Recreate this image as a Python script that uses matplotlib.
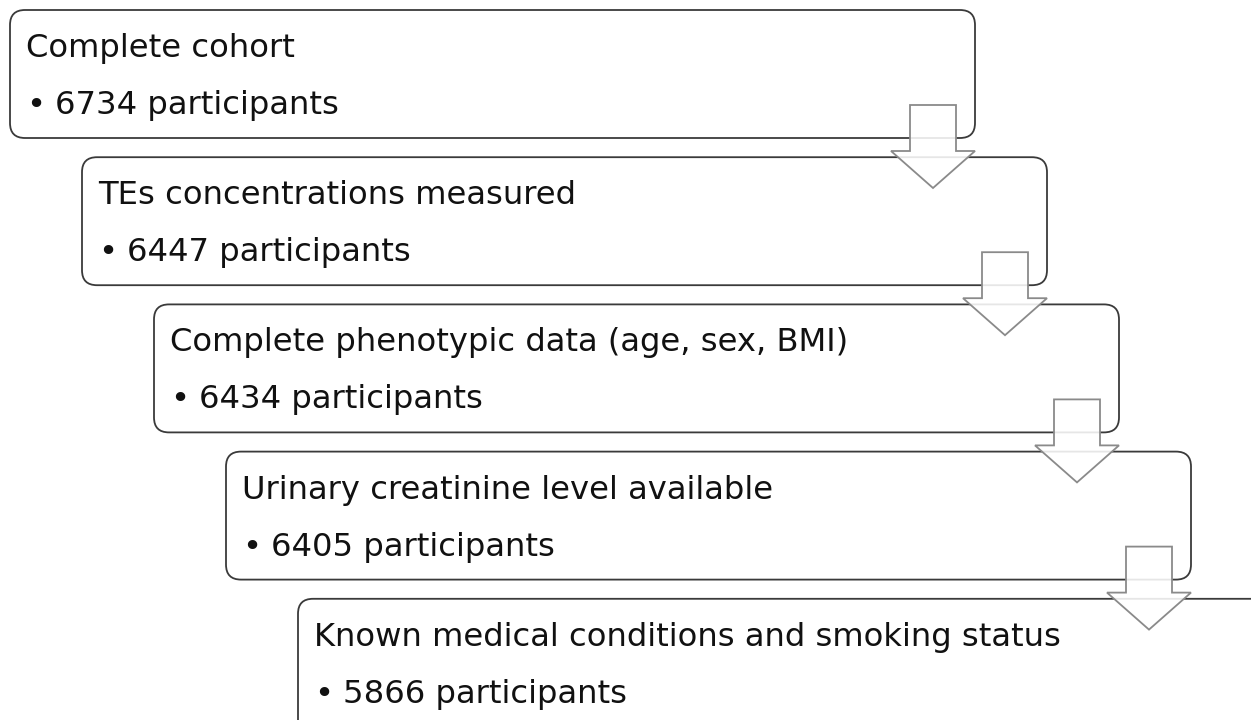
import matplotlib.pyplot as plt
from matplotlib.patches import FancyBboxPatch, Polygon

# flowchart content
steps = ['Complete cohort',
         'TEs concentrations measured',
         'Complete phenotypic data (age, sex, BMI)',
         'Urinary creatinine level available',
         'Known medical conditions and smoking status']
counts = [6734, 6447, 6434, 6405, 5866]

# the reference text is a little wider than Arial, DejaVu Sans fits its extents best
plt.rcParams['font.family'] = ['DejaVu Sans']

fig = plt.figure(figsize=(12.51, 7.2), dpi=100)
ax = fig.add_axes([0, 0, 1, 1])
ax.set_xlim(0, 1251)
ax.set_ylim(720, 0)
ax.axis('off')

# layout in pixels
x0, y0 = 10, 10
dx, dy = 72, 147.2
w, h = 965, 128
fs = 23.2

for i, (label, n) in enumerate(zip(steps, counts)):
    x = x0 + i * dx
    y = y0 + i * dy
    last = i == len(steps) - 1
    bw = 1000 if last else w
    bh = 200 if last else h
    box = FancyBboxPatch((x, y), bw, bh, boxstyle='round,pad=0,rounding_size=15',
                         facecolor='white', edgecolor='#3a3a3a', lw=1.3, zorder=1)
    ax.add_patch(box)
    ax.text(x + 16, y + 47, label, fontsize=fs, color='#111111', va='baseline', zorder=3)
    ax.text(x + 16, y + 104, '\u2022', fontsize=fs, color='#111111', va='baseline', zorder=3)
    ax.text(x + 45, y + 104, f'{n} participants', fontsize=fs, color='#111111',
            va='baseline', zorder=3)

    # down arrow to the next box
    if not last:
        r = x + w
        pts = [(r - 65, y + 95), (r - 19, y + 95), (r - 19, y + 141), (r, y + 141),
               (r - 42, y + 178), (r - 84, y + 141), (r - 65, y + 141)]
        arr = Polygon(pts, closed=True, facecolor=(1, 1, 1, 0.88), edgecolor='#8a8a8a',
                      lw=1.3, zorder=2)
        ax.add_patch(arr)

fig.savefig('out.png', dpi=100, facecolor='white')
